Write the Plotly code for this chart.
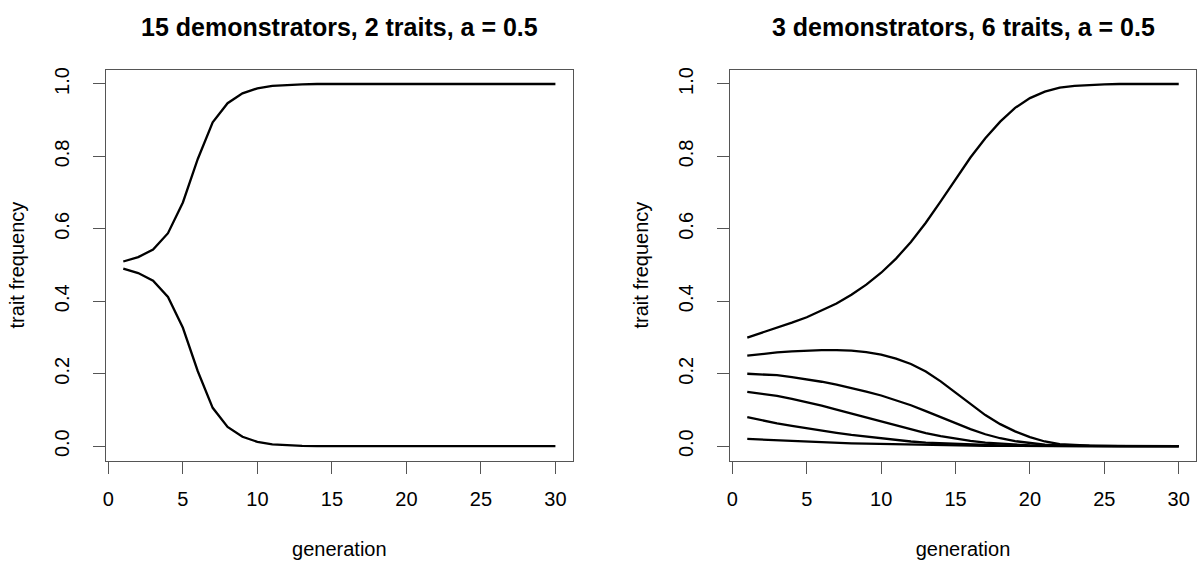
import plotly.graph_objects as go

generation = list(range(1, 31))

# Left panel: 15 demonstrators, 2 traits
left_trait_a = [0.510, 0.522, 0.543, 0.588, 0.673, 0.793, 0.894, 0.947, 0.974, 0.988,
                0.995, 0.998, 0.999, 1.0, 1.0, 1.0, 1.0, 1.0, 1.0, 1.0,
                1.0, 1.0, 1.0, 1.0, 1.0, 1.0, 1.0, 1.0, 1.0, 1.0]
left_trait_b = [0.490, 0.478, 0.457, 0.412, 0.327, 0.207, 0.106, 0.053, 0.026, 0.012,
                0.005, 0.002, 0.001, 0.0, 0.0, 0.0, 0.0, 0.0, 0.0, 0.0,
                0.0, 0.0, 0.0, 0.0, 0.0, 0.0, 0.0, 0.0, 0.0, 0.0]

# Right panel: 3 demonstrators, 6 traits
right_t1 = [0.300, 0.313, 0.327, 0.341, 0.356, 0.374, 0.394, 0.418, 0.446, 0.479,
            0.518, 0.564, 0.617, 0.676, 0.738, 0.797, 0.850, 0.896, 0.934, 0.961,
            0.979, 0.990, 0.995, 0.998, 0.999, 1.0, 1.0, 1.0, 1.0, 1.0]
right_t2 = [0.250, 0.255, 0.259, 0.262, 0.264, 0.265, 0.265, 0.264, 0.260, 0.253,
            0.242, 0.227, 0.206, 0.179, 0.148, 0.116, 0.086, 0.061, 0.041, 0.025,
            0.013, 0.006, 0.003, 0.0015, 0.0007, 0.0003, 0.0001, 0.0, 0.0, 0.0]
right_t3 = [0.200, 0.199, 0.196, 0.191, 0.185, 0.178, 0.170, 0.161, 0.151, 0.140,
            0.127, 0.113, 0.097, 0.080, 0.063, 0.047, 0.033, 0.022, 0.014, 0.008,
            0.004, 0.002, 0.001, 0.0005, 0.0002, 0.0, 0.0, 0.0, 0.0, 0.0]
right_t4 = [0.150, 0.145, 0.139, 0.131, 0.122, 0.112, 0.101, 0.090, 0.079, 0.067,
            0.056, 0.045, 0.036, 0.028, 0.021, 0.015, 0.010, 0.007, 0.004, 0.002,
            0.001, 0.0005, 0.0002, 0.0, 0.0, 0.0, 0.0, 0.0, 0.0, 0.0]
right_t5 = [0.080, 0.071, 0.063, 0.056, 0.049, 0.043, 0.037, 0.031, 0.026, 0.021,
            0.017, 0.013, 0.010, 0.008, 0.006, 0.004, 0.003, 0.002, 0.001, 0.0005,
            0.0002, 0.0, 0.0, 0.0, 0.0, 0.0, 0.0, 0.0, 0.0, 0.0]
right_t6 = [0.020, 0.018, 0.016, 0.014, 0.012, 0.011, 0.009, 0.008, 0.007, 0.006,
            0.005, 0.004, 0.003, 0.003, 0.002, 0.002, 0.001, 0.001, 0.0005, 0.0002,
            0.0, 0.0, 0.0, 0.0, 0.0, 0.0, 0.0, 0.0, 0.0, 0.0]

titles = ["15 demonstrators, 2 traits, a = 0.5", "3 demonstrators, 6 traits, a = 0.5"]
x_ticks = [0, 5, 10, 15, 20, 25, 30]
y_ticks = [0.0, 0.2, 0.4, 0.6, 0.8, 1.0]
y_tick_text = ["0.0", "0.2", "0.4", "0.6", "0.8", "1.0"]

FONT = "Liberation Sans, Arial, Helvetica, sans-serif"
LINE = dict(color="black", width=2.3)

fig = go.Figure()
for ys in [left_trait_a, left_trait_b]:
    fig.add_trace(go.Scatter(x=generation, y=ys, mode="lines", line=LINE,
                             xaxis="x", yaxis="y", showlegend=False, hoverinfo="skip"))
for ys in [right_t1, right_t2, right_t3, right_t4, right_t5, right_t6]:
    fig.add_trace(go.Scatter(x=generation, y=ys, mode="lines", line=LINE,
                             xaxis="x2", yaxis="y2", showlegend=False, hoverinfo="skip"))

W, H = 1200, 567
dom_x1 = [106 / W, 572.7 / W]
dom_x2 = [730 / W, 1196 / W]
dom_y = [(H - 460.7) / H, (H - 69.5) / H]

def xaxis(dom, anchor):
    return dict(domain=dom, anchor=anchor, range=[-0.16, 31.16],
                tickmode="array", tickvals=x_ticks, ticktext=[str(v) for v in x_ticks],
                ticks="outside", ticklen=12, tickwidth=1, tickcolor="#555",
                showline=True, mirror=True, linecolor="#555", linewidth=1,
                showgrid=False, zeroline=False, automargin=False,
                ticklabelstandoff=8,
                tickfont=dict(family=FONT, size=20, color="black"),
                title=dict(text="generation", standoff=33,
                           font=dict(family=FONT, size=20, color="black")))

def yaxis(anchor):
    return dict(domain=dom_y, anchor=anchor, range=[-0.04, 1.04],
                tickmode="array", tickvals=y_ticks, ticktext=y_tick_text,
                tickangle=-90,
                ticks="outside", ticklen=12, tickwidth=1, tickcolor="#555",
                showline=True, mirror=True, linecolor="#555", linewidth=1,
                showgrid=False, zeroline=False, automargin=False,
                ticklabelstandoff=16,
                tickfont=dict(family=FONT, size=20, color="black"),
                title=dict(text="trait frequency", standoff=20,
                           font=dict(family=FONT, size=20, color="black")))

fig.update_layout(
    width=W, height=H,
    margin=dict(l=0, r=0, t=0, b=0),
    paper_bgcolor="white", plot_bgcolor="white",
    xaxis=xaxis(dom_x1, "y"), yaxis=yaxis("x"),
    xaxis2=xaxis(dom_x2, "y2"), yaxis2=yaxis("x2"),
    annotations=[
        dict(text="<b>" + titles[0] + "</b>", x=(dom_x1[0] + dom_x1[1]) / 2, y=(H - 27) / H,
             xref="paper", yref="paper", xanchor="center", yanchor="middle", showarrow=False,
             font=dict(family=FONT, size=25, color="black")),
        dict(text="<b>" + titles[1] + "</b>", x=(dom_x2[0] + dom_x2[1]) / 2, y=(H - 27) / H,
             xref="paper", yref="paper", xanchor="center", yanchor="middle", showarrow=False,
             font=dict(family=FONT, size=25, color="black")),
    ],
)

fig.write_html("out.html")
